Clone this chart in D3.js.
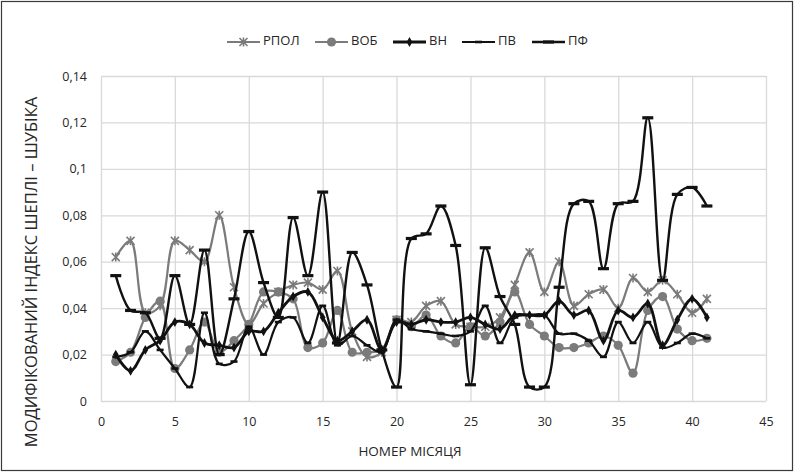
<!DOCTYPE html>
<html>
<head>
<meta charset="utf-8">
<script src="https://cdn.jsdelivr.net/npm/d3@7"></script>
<style>
  body { margin: 0; background: #fff; }
  svg { display: block; }
  text { font-family: "Open Sans", "Noto Sans", sans-serif; fill: #262626; }
</style>
</head>
<body>
<svg id="chart" width="794" height="472"></svg>
<script>
// Month numbers and the modified Shapley–Shubik index per group
const months = d3.range(1, 42);

const rpol = [0.062, 0.069, 0.038, 0.041, 0.069, 0.065, 0.060, 0.080, 0.049, 0.033,
              0.042, 0.047, 0.050, 0.051, 0.048, 0.056, 0.030, 0.019, 0.021, 0.035,
              0.034, 0.041, 0.043, 0.033, 0.032, 0.032, 0.036, 0.050, 0.064, 0.047,
              0.060, 0.041, 0.046, 0.048, 0.040, 0.053, 0.047, 0.052, 0.046, 0.038, 0.044];

const vob  = [0.017, 0.021, 0.036, 0.043, 0.014, 0.022, 0.034, 0.021, 0.026, 0.033,
              0.047, 0.047, 0.044, 0.023, 0.025, 0.039, 0.021, 0.021, 0.022, 0.035,
              0.032, 0.037, 0.028, 0.025, 0.032, 0.028, 0.034, 0.047, 0.033, 0.028,
              0.023, 0.023, 0.025, 0.028, 0.024, 0.012, 0.039, 0.045, 0.031, 0.026, 0.027];

const vn   = [0.020, 0.013, 0.022, 0.026, 0.034, 0.033, 0.025, 0.024, 0.023, 0.030,
              0.030, 0.038, 0.045, 0.047, 0.036, 0.026, 0.030, 0.035, 0.022, 0.034,
              0.033, 0.035, 0.034, 0.034, 0.036, 0.033, 0.031, 0.037, 0.037, 0.037,
              0.043, 0.037, 0.039, 0.026, 0.039, 0.036, 0.042, 0.024, 0.035, 0.044, 0.036];

const pv   = [0.019, 0.021, 0.030, 0.022, 0.014, 0.006, 0.038, 0.016, 0.017, 0.032,
              0.020, 0.034, 0.036, 0.025, 0.041, 0.024, 0.028, 0.024, 0.021, 0.035,
              0.031, 0.030, 0.029, 0.028, 0.030, 0.041, 0.025, 0.036, 0.037, 0.037,
              0.029, 0.029, 0.026, 0.019, 0.034, 0.025, 0.034, 0.023, 0.025, 0.029, 0.027];

const pf   = [0.054, 0.039, 0.038, 0.027, 0.054, 0.033, 0.065, 0.020, 0.044, 0.073,
              0.051, 0.036, 0.079, 0.054, 0.090, 0.025, 0.064, 0.050, 0.022, 0.006,
              0.070, 0.072, 0.084, 0.067, 0.007, 0.066, 0.045, 0.033, 0.006, 0.006,
              0.049, 0.085, 0.086, 0.057, 0.085, 0.086, 0.122, 0.052, 0.089, 0.092, 0.084];

const seriesNames = ["РПОЛ", "ВОБ", "ВН", "ПВ", "ПФ"];
const xTicks = [0, 5, 10, 15, 20, 25, 30, 35, 40, 45];
const yTicks = [0, 0.02, 0.04, 0.06, 0.08, 0.1, 0.12, 0.14];

const xTitle = "НОМЕР МІСЯЦЯ";
const yTitle = "МОДИФІКОВАНИЙ ІНДЕКС ШЕПЛІ – ШУБІКА";

// ---- drawing ----
const W = 794, H = 472;
const svg = d3.select("#chart");

svg.append("rect")
  .attr("x", 1.5).attr("y", 1.5)
  .attr("width", W - 3).attr("height", H - 3)
  .attr("fill", "#fff").attr("stroke", "#3a3a3a").attr("stroke-width", 1.2);

const plotL = 101, plotR = 766, plotT = 76, plotB = 401;
const x = d3.scaleLinear().domain([0, 45]).range([plotL, plotR]);
const y = d3.scaleLinear().domain([0, 0.14]).range([plotB, plotT]);

const fmt = d => d === 0 ? "0" : d3.format(".2~f")(d).replace(".", ",");

// horizontal grid + y labels
const gy = svg.append("g").attr("transform", `translate(${plotL},0)`)
  .call(d3.axisLeft(y).tickValues(yTicks).tickFormat(fmt)
        .tickSize(-(plotR - plotL)).tickPadding(14));
gy.select(".domain").remove();
gy.selectAll("line").attr("stroke", "#d9d9d9").attr("stroke-width", 1.3);
gy.selectAll("text").attr("font-size", 12.5).attr("fill", "#262626");

// vertical grid + x labels
const gx = svg.append("g").attr("transform", `translate(0,${plotB})`)
  .call(d3.axisBottom(x).tickValues(xTicks).tickFormat(d3.format("d"))
        .tickSize(-(plotB - plotT)).tickPadding(16));
gx.select(".domain").remove();
gx.selectAll("line").attr("stroke", "#d9d9d9").attr("stroke-width", 1.3);
gx.selectAll("text").attr("font-size", 12.5).attr("fill", "#262626");

// axis titles
svg.append("text")
  .attr("transform", "translate(33,272) rotate(-90)")
  .attr("text-anchor", "middle").attr("dominant-baseline", "middle")
  .attr("font-size", 16.5)
  .text(yTitle);

svg.append("text")
  .attr("x", 410).attr("y", 452)
  .attr("text-anchor", "middle").attr("dominant-baseline", "middle")
  .attr("font-size", 13.5)
  .text(xTitle);

// series styles
const GRAY = "#7b7b7b", BLACK = "#111";
const series = [
  { name: seriesNames[0], values: rpol, color: GRAY,  width: 2.2, marker: "star" },
  { name: seriesNames[1], values: vob,  color: GRAY,  width: 2.2, marker: "circle" },
  { name: seriesNames[2], values: vn,   color: BLACK, width: 2.8, marker: "diamond" },
  { name: seriesNames[3], values: pv,   color: BLACK, width: 2.2, marker: "dashS" },
  { name: seriesNames[4], values: pf,   color: BLACK, width: 2.4, marker: "dashL" }
];

function drawMarker(g, type, color) {
  if (type === "star") {
    g.append("path").attr("d", "M-4,-4L4,4M-4,4L4,-4M0,-4.5L0,4.5")
      .attr("stroke", color).attr("stroke-width", 1.6).attr("fill", "none");
  } else if (type === "circle") {
    g.append("circle").attr("r", 4.6).attr("fill", color);
  } else if (type === "diamond") {
    g.append("path").attr("d", d3.symbol(d3.symbolDiamond, 28)()).attr("fill", color);
  } else if (type === "dashS") {
    g.append("rect").attr("x", -3.5).attr("y", -1.3).attr("width", 7).attr("height", 2.6).attr("fill", color);
  } else if (type === "dashL") {
    g.append("rect").attr("x", -5.5).attr("y", -1.6).attr("width", 11).attr("height", 3.2).attr("fill", color);
  }
}

// smoothed lines through every monthly point
const line = d3.line()
  .x((d, i) => x(months[i]))
  .y(d => y(d))
  .curve(d3.curveCatmullRom.alpha(0.5));

const plot = svg.append("g");
series.forEach(s => {
  const g = plot.append("g").attr("class", "series");
  g.append("path")
    .attr("d", line(s.values))
    .attr("fill", "none")
    .attr("stroke", s.color)
    .attr("stroke-width", s.width)
    .attr("stroke-linejoin", "round");
  s.values.forEach((v, i) => {
    const m = g.append("g").attr("transform", `translate(${x(months[i])},${y(v)})`);
    drawMarker(m, s.marker, s.color);
  });
});

// legend
const legendY = 42;
const legendX = [227, 315, 393, 462, 532];
series.forEach((s, i) => {
  const g = svg.append("g").attr("transform", `translate(${legendX[i]},${legendY})`);
  g.append("line").attr("x1", 0).attr("x2", 33).attr("y1", 0).attr("y2", 0)
    .attr("stroke", s.color).attr("stroke-width", s.width);
  const m = g.append("g").attr("transform", "translate(16.5,0)");
  drawMarker(m, s.marker, s.color);
  g.append("text").attr("x", 36).attr("y", 0)
    .attr("dominant-baseline", "middle")
    .attr("font-size", 13)
    .text(s.name);
});
</script>
</body>
</html>
